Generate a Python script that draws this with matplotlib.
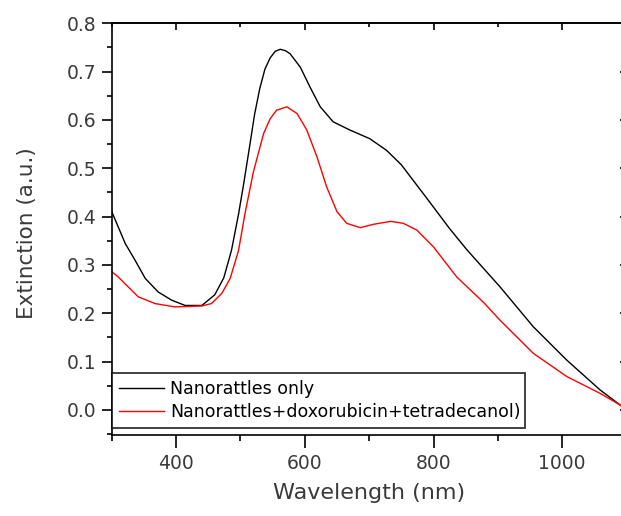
import matplotlib
matplotlib.use("Agg")
import matplotlib.pyplot as plt
from matplotlib.ticker import MultipleLocator, FormatStrFormatter

# ---- data ----
wl_black = [300, 321, 336, 352, 372, 393, 414, 440, 460, 474, 486, 497, 505, 515,
            522, 530, 538, 546, 554, 562, 570, 577, 593, 608, 624, 644, 670, 701,
            727, 750, 790, 825, 852, 903, 955, 1007, 1059, 1090, 1100]
ext_black = [0.410, 0.344, 0.310, 0.272, 0.244, 0.227, 0.216, 0.216, 0.238, 0.273,
             0.330, 0.405, 0.468, 0.552, 0.612, 0.665, 0.705, 0.728, 0.742, 0.746,
             0.743, 0.737, 0.709, 0.668, 0.627, 0.596, 0.579, 0.561, 0.537, 0.507,
             0.437, 0.375, 0.331, 0.255, 0.172, 0.103, 0.041, 0.010, 0.000]

wl_red = [300, 310, 341, 367, 398, 440, 455, 471, 484, 497, 507, 520, 536, 546, 556,
          572, 588, 603, 619, 634, 650, 665, 686, 707, 733, 753, 774, 800, 836, 878,
          903, 955, 1007, 1059, 1090, 1100]
ext_red = [0.286, 0.275, 0.234, 0.220, 0.213, 0.215, 0.220, 0.241, 0.272, 0.330,
           0.406, 0.492, 0.572, 0.602, 0.620, 0.627, 0.613, 0.579, 0.523, 0.461,
           0.410, 0.386, 0.377, 0.384, 0.390, 0.386, 0.372, 0.337, 0.275, 0.222,
           0.186, 0.117, 0.069, 0.034, 0.010, 0.000]

labels = ["Nanorattles only", "Nanorattles+doxorubicin+tetradecanol)"]
x_ticks = [400, 600, 800, 1000]
y_ticks = [0.0, 0.1, 0.2, 0.3, 0.4, 0.5, 0.6, 0.7, 0.8]

plt.rcParams['font.family'] = ['DejaVu Sans']

fig = plt.figure(figsize=(6.21, 5.16), dpi=100)
ax = fig.add_axes([0.180, 0.157, 0.829, 0.798])

ax.plot(wl_black, ext_black, color='black', lw=1.0, label=labels[0])
ax.plot(wl_red, ext_red, color='#ff0000', lw=1.0, label=labels[1])

ax.set_xlim(300, 1100)
ax.set_ylim(-0.052, 0.8)
ax.set_xticks(x_ticks)
ax.set_yticks(y_ticks)
ax.xaxis.set_minor_locator(MultipleLocator(100))
ax.yaxis.set_minor_locator(MultipleLocator(0.05))
ax.yaxis.set_major_formatter(FormatStrFormatter('%.1f'))

tick_color = '#3a3a3a'
ax.tick_params(axis='x', which='major', direction='out', length=9, width=1.2,
               labelsize=13.5, labelcolor=tick_color, pad=5)
ax.tick_params(axis='x', which='minor', direction='out', length=4, width=1.2)
ax.tick_params(axis='y', which='major', direction='out', length=7, width=1.2,
               labelsize=13.5, labelcolor=tick_color, pad=4)
ax.tick_params(axis='y', which='minor', direction='out', length=3.5, width=1.2)

for s in ax.spines.values():
    s.set_linewidth(1.2)

# top / right inward ticks without labels
secx = ax.secondary_xaxis('top')
secx.set_xticks(x_ticks)
secx.xaxis.set_minor_locator(MultipleLocator(100))
secx.tick_params(which='major', direction='in', length=5, width=1.2, labeltop=False)
secx.tick_params(which='minor', direction='in', length=3, width=1.2)
secx.spines['top'].set_linewidth(1.2)

secy = ax.secondary_yaxis('right')
secy.set_yticks(y_ticks)
secy.yaxis.set_minor_locator(MultipleLocator(0.05))
secy.tick_params(which='major', direction='in', length=5, width=1.2, labelright=False)
secy.tick_params(which='minor', direction='in', length=3, width=1.2)

ax.set_xlabel("Wavelength (nm)", fontsize=16, color=tick_color, labelpad=7)
ax.set_ylabel("Extinction (a.u.)", fontsize=15.5, color=tick_color)
ax.yaxis.set_label_coords(-0.146, 0.49)

leg = ax.legend(loc='lower left', bbox_to_anchor=(0.0, 0.017, 0.803, 0.126),
                mode='expand', borderaxespad=0, fontsize=12.5, frameon=True,
                fancybox=False, handlelength=2.6, handletextpad=0.35,
                labelspacing=0.3, borderpad=0.4)
leg.get_frame().set_edgecolor('black')
leg.get_frame().set_linewidth(1.3)

fig.savefig("out.png", dpi=100)
